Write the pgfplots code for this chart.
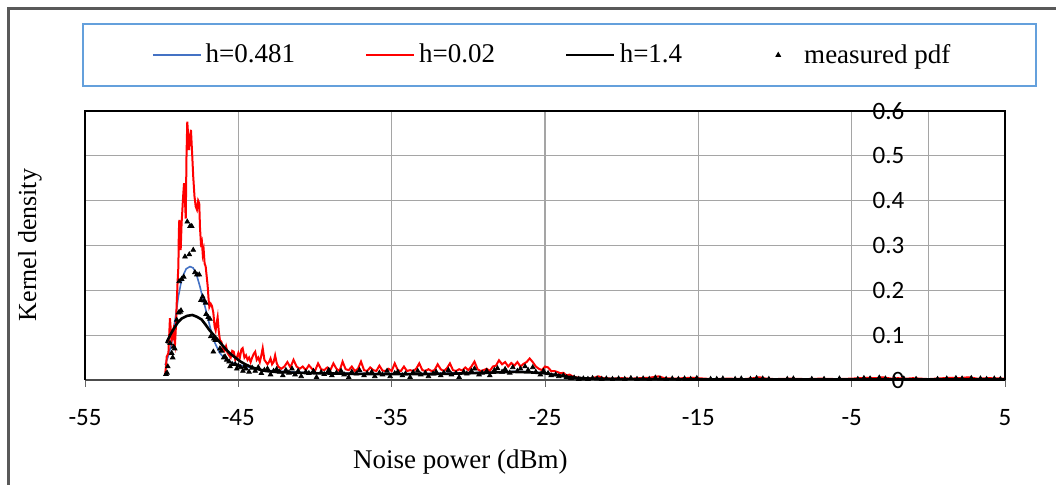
\documentclass[border=0pt]{standalone}
\usepackage{fontspec}
\setmainfont{Liberation Serif}
\newfontfamily\calibri{Carlito}
\usepackage{pgfplots}
\pgfplotsset{compat=1.18}
\definecolor{xlblue}{RGB}{68,114,196}
\definecolor{legblue}{RGB}{100,160,220}
\definecolor{framegray}{RGB}{89,89,89}
\definecolor{gridgray}{RGB}{165,165,165}
\pgfplotsset{
  lineleg/.style={legend image code/.code={\draw[##1] (0pt,0pt) -- (24pt,0pt);}},
  markleg/.style={legend image code/.code={\path[draw=none] (0pt,0pt) (24pt,0pt);
      \draw[##1] plot[only marks] coordinates {(13pt,0pt)};}}}

\begin{document}
\begin{tikzpicture}
\begin{axis}[
  at={(42.5pt,52.5pt)}, anchor=south west,
  scale only axis, width=460pt, height=134.5pt,
  xmin=-55, xmax=5, ymin=0, ymax=0.6,
  clip=false,
  axis x line=bottom, axis y line=middle,
  x axis line style={-, draw=black!70, line width=1pt},
  y axis line style={-, draw=gridgray, line width=0.7pt},
  hide obscured x ticks=false, hide obscured y ticks=false,
  xtick={-55,-45,-35,-25,-15,-5,5},
  xticklabels={-55,-45,-35,-25,-15,-5,5},
  ytick={0,0.1,0.2,0.3,0.4,0.5,0.6},
  yticklabels={0,0.1,0.2,0.3,0.4,0.5,0.6},
  tick align=outside, major tick length=3.5pt,
  xtick style={draw=black!60, line width=0.5pt},
  ytick style={draw=none},
  grid=major, grid style={gridgray, line width=0.6pt},
  ticklabel style={font=\calibri\fontsize{12.5}{14}\selectfont},
  yticklabel style={anchor=east, xshift=-5pt},
  xticklabel style={yshift=-7.5pt},
  xlabel={Noise power (dBm)},
  xlabel style={at={(axis description cs:0.408,-0.305)}, anchor=center,
                font=\fontsize{13.5}{15}\selectfont},
  legend columns=4,
  legend cell align=left,
  legend style={draw=none, fill=none, at={(axis description cs:0.509,1.208)},
                anchor=center, font=\fontsize{13.5}{15}\selectfont,
                /tikz/every even column/.append style={column sep=33pt}},
]
% h=0.481
\addplot[xlblue, line width=0.8pt, no marks, lineleg] coordinates {
(-49.78,0.033) (-49.6,0.05) (-49.35,0.082) (-49.1,0.14) (-48.91,0.186)
(-48.75,0.215) (-48.59,0.234) (-48.4,0.248) (-48.15,0.253) (-47.95,0.25)
(-47.75,0.238) (-47.5,0.208) (-47.3,0.18) (-47.17,0.163) (-47.0,0.14)
(-46.85,0.119) (-46.7,0.1) (-46.52,0.082) (-46.35,0.07) (-46.2,0.06)
(-46.0,0.052) (-45.76,0.045) (-45.5,0.04) (-45.0,0.034) (-44.5,0.03)
(-44,0.026) (-43.5,0.023) (-43,0.021) (-42,0.019) (-41,0.017) (-40,0.016)
(-38,0.015) (-36,0.014) (-34,0.014) (-32,0.015) (-30,0.016) (-28,0.018)
(-27,0.019) (-26,0.018) (-25,0.015) (-24,0.01) (-23,0.005) (-22,0.003)
(-21,0.002) (-18,0.002) (-10,0.001) (0,0.001) (5,0.001)
};
% h=0.02
\addplot[red, line width=1pt, no marks, lineleg] coordinates {
(-49.78,0.01) (-49.72,0.030) (-49.67,0.052) (-49.56,0.06) (-49.46,0.138)
(-49.40,0.11) (-49.35,0.089) (-49.29,0.10) (-49.24,0.110) (-49.18,0.09)
(-49.13,0.080) (-49.07,0.12) (-49.02,0.17) (-48.96,0.22) (-48.91,0.253)
(-48.88,0.33) (-48.85,0.357) (-48.80,0.31) (-48.76,0.29) (-48.70,0.35)
(-48.65,0.379) (-48.60,0.41) (-48.54,0.439) (-48.48,0.40) (-48.43,0.36)
(-48.38,0.50) (-48.33,0.576) (-48.28,0.55) (-48.22,0.513) (-48.15,0.54)
(-48.09,0.558) (-48.02,0.51) (-47.94,0.453) (-47.86,0.41) (-47.78,0.387)
(-47.70,0.38) (-47.62,0.40) (-47.55,0.394) (-47.50,0.34) (-47.44,0.305)
(-47.38,0.31) (-47.32,0.28) (-47.26,0.29) (-47.20,0.26) (-47.13,0.253)
(-47.06,0.23) (-47.00,0.21) (-46.94,0.18) (-46.89,0.163) (-46.80,0.17)
(-46.72,0.165) (-46.63,0.15) (-46.55,0.12) (-46.48,0.111) (-46.40,0.13)
(-46.35,0.14) (-46.28,0.11) (-46.20,0.089) (-46.10,0.085) (-46.00,0.07)
(-45.90,0.065) (-45.80,0.075) (-45.70,0.06) (-45.60,0.055) (-45.50,0.05)
(-45.40,0.065) (-45.30,0.063) (-45.20,0.045) (-45.10,0.05) (-45.00,0.06)
(-44.90,0.05) (-44.80,0.068) (-44.72,0.071) (-44.60,0.05) (-44.50,0.055)
(-44.40,0.045) (-44.30,0.05) (-44.20,0.04) (-44.10,0.05) (-44.00,0.058)
(-43.90,0.063) (-43.80,0.045) (-43.70,0.05) (-43.60,0.04) (-43.50,0.055)
(-43.41,0.071) (-43.30,0.045) (-43.20,0.04) (-43.10,0.035) (-43.00,0.04)
(-42.90,0.048) (-42.80,0.035) (-42.70,0.04) (-42.60,0.055) (-42.50,0.038)
(-42.40,0.03) (-42.2,0.025) (-42.0,0.03) (-41.8,0.04) (-41.6,0.028)
(-41.4,0.045) (-41.2,0.03) (-41.0,0.025) (-40.8,0.03) (-40.6,0.022)
(-40.4,0.033) (-40.2,0.025) (-40.0,0.02) (-39.8,0.037) (-39.6,0.024)
(-39.4,0.022) (-39.2,0.028) (-39.0,0.022) (-38.8,0.037) (-38.6,0.025)
(-38.4,0.02) (-38.2,0.041) (-38.0,0.024) (-37.8,0.022) (-37.6,0.03)
(-37.4,0.02) (-37.2,0.025) (-37.0,0.041) (-36.8,0.022) (-36.6,0.02)
(-36.4,0.028) (-36.2,0.022) (-36.0,0.02) (-35.8,0.032) (-35.6,0.021)
(-35.4,0.02) (-35.2,0.025) (-35.0,0.02) (-34.8,0.037) (-34.6,0.022)
(-34.4,0.02) (-34.2,0.03) (-34.0,0.02) (-33.8,0.022) (-33.6,0.02)
(-33.4,0.025) (-33.2,0.037) (-33.0,0.022) (-32.8,0.02) (-32.6,0.024)
(-32.4,0.02) (-32.2,0.022) (-32.0,0.035) (-31.8,0.024) (-31.6,0.02)
(-31.4,0.026) (-31.2,0.037) (-31.0,0.022) (-30.8,0.02) (-30.6,0.024)
(-30.4,0.021) (-30.2,0.028) (-30.0,0.022) (-29.8,0.03) (-29.6,0.041)
(-29.4,0.024) (-29.2,0.02) (-29.0,0.022) (-28.8,0.025) (-28.6,0.02)
(-28.4,0.03) (-28.2,0.032) (-28.0,0.044) (-27.8,0.035) (-27.6,0.04)
(-27.4,0.03) (-27.2,0.038) (-27.0,0.032) (-26.8,0.04) (-26.6,0.03)
(-26.4,0.036) (-26.2,0.04) (-26.0,0.048) (-25.8,0.04) (-25.6,0.03)
(-25.4,0.025) (-25.2,0.022) (-25.0,0.03) (-24.8,0.028) (-24.6,0.02)
(-24.4,0.02) (-24.2,0.018) (-24.0,0.015) (-23.8,0.016) (-23.6,0.01)
(-23.4,0.012) (-23.2,0.008) (-23.0,0.006) (-22.6,0.004) (-22.2,0.003)
(-21.8,0.005) (-21.5,0.008) (-21.2,0.004) (-20.6,0.003) (-20.0,0.004)
(-19.4,0.003) (-18.8,0.004) (-18.2,0.005) (-17.6,0.008) (-17.2,0.004)
(-16.6,0.003) (-16.0,0.004) (-15.4,0.005) (-15.0,0.004) (-14.6,0.003)
(-14.0,0.002) (-13.0,0.003) (-12.0,0.002) (-11.4,0.004) (-11.0,0.006)
(-10.6,0.003) (-10.0,0.002) (-9.0,0.003) (-8.0,0.002) (-7.0,0.003)
(-6.0,0.002) (-5.0,0.003) (-4.0,0.005) (-3.4,0.004) (-3.0,0.006)
(-2.4,0.003) (-2.0,0.004) (-1.4,0.003) (-1.0,0.004) (0.0,0.002)
(1.0,0.004) (1.6,0.005) (2.0,0.004) (2.6,0.006) (3.2,0.003)
(4.0,0.004) (5.0,0.003)
};
% h=1.4
\addplot[black, line width=1.3pt, no marks, lineleg] coordinates {
(-49.7,0.082) (-49.45,0.1) (-49.2,0.115) (-48.95,0.128) (-48.7,0.137)
(-48.35,0.143) (-48.0,0.145) (-47.7,0.141) (-47.4,0.135) (-47.15,0.124)
(-46.9,0.112) (-46.6,0.1) (-46.3,0.088) (-46.05,0.078) (-45.8,0.068)
(-45.5,0.058) (-45.2,0.05) (-44.9,0.042) (-44.6,0.036) (-44.3,0.031)
(-44.0,0.027) (-43.6,0.023) (-43.2,0.02) (-42.6,0.018) (-42,0.017)
(-41,0.016) (-40,0.015) (-38,0.014) (-36,0.013) (-35,0.013) (-33,0.013)
(-31,0.014) (-30,0.015) (-29,0.016) (-28,0.017) (-27,0.018) (-26,0.017)
(-25,0.015) (-24.5,0.012) (-24,0.01) (-23.5,0.007) (-23,0.005)
(-22,0.003) (-20,0.002) (-15,0.001) (-5,0.001) (0,0.001) (5,0.001)
};
% measured pdf
\addplot[only marks, mark=triangle*, mark size=1.3pt, black, markleg] coordinates {
(-49.72,0.013) (-49.65,0.016) (-49.6,0.03) (-49.45,0.082) (-49.35,0.06)
(-49.28,0.05) (-49.22,0.074) (-49.15,0.07) (-49.02,0.134) (-48.9,0.15)
(-48.8,0.152) (-48.74,0.155) (-48.86,0.22) (-48.7,0.225) (-48.56,0.23)
(-48.48,0.275) (-48.33,0.353) (-48.2,0.28) (-48.15,0.343) (-48.04,0.343)
(-47.94,0.29) (-47.83,0.24) (-47.7,0.235) (-47.55,0.235) (-47.44,0.178)
(-47.33,0.186) (-47.22,0.177) (-47.13,0.172) (-47.1,0.147) (-46.96,0.14)
(-46.85,0.136) (-46.8,0.097) (-46.63,0.063) (-46.6,0.092) (-46.5,0.089)
(-46.4,0.089) (-46.2,0.07) (-46.1,0.065) (-45.95,0.05) (-45.87,0.052)
(-45.75,0.045) (-45.6,0.041) (-45.54,0.03) (-45.4,0.035) (-45.2,0.035)
(-45.1,0.025) (-45.0,0.032) (-44.85,0.028) (-44.7,0.02) (-44.6,0.03)
(-44.5,0.025) (-44.3,0.018) (-44.1,0.027) (-43.9,0.02) (-43.7,0.028)
(-43.5,0.015) (-43.3,0.022) (-43.1,0.025) (-42.9,0.012) (-42.7,0.02)
(-42.5,0.024) (-42.3,0.018) (-42.1,0.01) (-41.9,0.022) (-41.7,0.016)
(-41.5,0.025) (-41.3,0.012) (-41.1,0.02) (-40.9,0.008) (-40.6,0.018)
(-40.4,0.015) (-40.1,0.02) (-39.9,0.006) (-39.6,0.017) (-39.4,0.013)
(-39.1,0.022) (-38.9,0.01) (-38.6,0.016) (-38.3,0.02) (-38.1,0.012)
(-37.8,0.006) (-37.6,0.018) (-37.3,0.014) (-37.1,0.022) (-36.8,0.01)
(-36.6,0.015) (-36.3,0.018) (-36.1,0.008) (-35.8,0.016) (-35.6,0.012)
(-35.3,0.02) (-35.1,0.008) (-34.8,0.015) (-34.6,0.018) (-34.3,0.01)
(-34.1,0.014) (-33.8,0.006) (-33.6,0.017) (-33.3,0.02) (-33.1,0.012)
(-32.8,0.016) (-32.6,0.008) (-32.3,0.014) (-32.1,0.018) (-31.8,0.01)
(-31.6,0.016) (-31.3,0.022) (-31.1,0.012) (-30.8,0.015) (-30.6,0.006)
(-30.3,0.018) (-30.1,0.014) (-29.8,0.02) (-29.6,0.025) (-29.3,0.012)
(-29.1,0.016) (-28.8,0.02) (-28.6,0.01) (-28.3,0.022) (-28.1,0.026)
(-27.8,0.018) (-27.6,0.024) (-27.3,0.016) (-27.1,0.028) (-26.8,0.02)
(-26.6,0.025) (-26.3,0.03) (-26.1,0.022) (-25.8,0.028) (-25.6,0.018)
(-25.3,0.012) (-25.1,0.02) (-24.8,0.015) (-24.6,0.01) (-24.3,0.012)
(-24.1,0.008) (-23.8,0.01) (-23.6,0.006) (-23.3,0.004) (-23.1,0.005)
(-22.8,0.002) (-22.5,0.003) (-22.2,0.002) (-21.9,0.004) (-21.6,0.003)
(-21.3,0.002) (-21.0,0.003) (-20.6,0.002) (-20.2,0.003) (-19.8,0.002)
(-19.4,0.004) (-19.0,0.002) (-18.6,0.003) (-18.2,0.002) (-17.8,0.005)
(-17.5,0.003) (-17.1,0.002) (-16.7,0.003) (-16.3,0.002) (-15.9,0.003)
(-15.5,0.002) (-15.1,0.004) (-14.2,0.002) (-13.8,0.002) (-13.4,0.003)
(-12.6,0.002) (-12.2,0.003) (-11.6,0.002) (-11.2,0.004) (-10.8,0.003)
(-10.4,0.002) (-9.2,0.002) (-8.8,0.003) (-7.6,0.002) (-6.8,0.002)
(-5.8,0.003) (-4.6,0.002) (-4.2,0.004) (-3.8,0.003) (-3.2,0.005)
(-2.8,0.003) (-2.2,0.002) (-1.6,0.003) (-0.8,0.002) (0.6,0.002)
(1.2,0.003) (1.8,0.004) (2.2,0.003) (2.8,0.004) (3.4,0.003)
(3.8,0.002) (4.3,0.003) (4.7,0.002)
};
\legend{h=0.481,h=0.02,h=1.4,measured pdf}
\draw[black, line width=0.9pt] (rel axis cs:0,0) -- (rel axis cs:0,1)
  -- (rel axis cs:1,1) -- (rel axis cs:1,0);
\end{axis}
\node[rotate=90, font=\fontsize{13}{15}\selectfont] at (15pt,120pt) {Kernel density};
\draw[legblue, line width=1pt] (41.5pt,199.5pt) rectangle (518pt,230.5pt);
\draw[framegray, line width=1.6pt] (4.25pt,0pt) -- (4.25pt,238.25pt) -- (528pt,238.25pt);
\pgfresetboundingbox
\path[use as bounding box] (0,0) rectangle (528pt,242.5pt);
\end{tikzpicture}
\end{document}
